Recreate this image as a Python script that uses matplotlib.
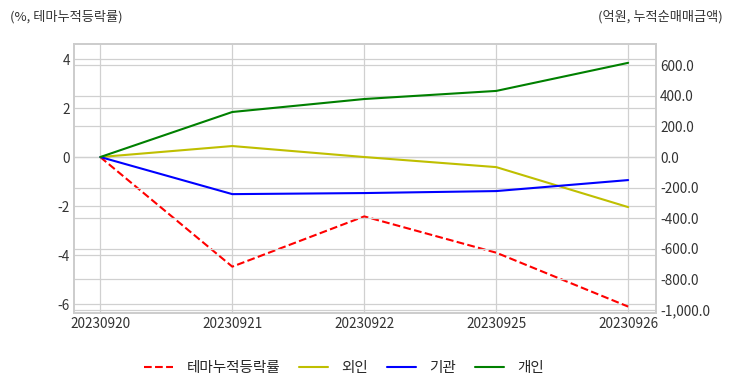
import matplotlib
matplotlib.use("Agg")
import matplotlib.pyplot as plt
import seaborn as sns
from matplotlib.ticker import FuncFormatter

sns.set_style("whitegrid")
plt.rcParams['font.family'] = ['Noto Sans CJK KR', 'DejaVu Sans']
plt.rcParams['axes.unicode_minus'] = False

# dates on the x axis
dates = ['20230920', '20230921', '20230922', '20230925', '20230926']
# theme cumulative return (%), left axis
theme_pct = [0.0, -4.47, -2.42, -3.9, -6.1]
# cumulative net buying (100M won), right axis
foreign = [0.0, 72.0, 0.0, -66.0, -328.0]
institution = [0.0, -243.0, -236.0, -223.0, -151.0]
individual = [0.0, 295.0, 380.0, 433.0, 617.0]

fig = plt.figure(figsize=(7.32, 3.92), dpi=100)
ax = fig.add_axes([0.101, 0.201, 0.795, 0.687])
ax2 = ax.twinx()

x = list(range(len(dates)))
l1, = ax.plot(x, theme_pct, color='red', linestyle='--', linewidth=1.5, label='테마누적등락률')
l2, = ax2.plot(x, foreign, color='y', linewidth=1.5, label='외인')
l3, = ax2.plot(x, institution, color='blue', linewidth=1.5, label='기관')
l4, = ax2.plot(x, individual, color='green', linewidth=1.5, label='개인')

ax.set_xlim(-0.2, 4.21)
ax.set_ylim(-6.37, 4.62)
ax2.set_ylim(-1023, 741)
ax.set_yticks([-6, -4, -2, 0, 2, 4])
ax2.set_yticks([-1000, -800, -600, -400, -200, 0, 200, 400, 600])
ax2.yaxis.set_major_formatter(FuncFormatter(lambda v, p: f"{v:,.1f}"))
ax.set_xticks(x)
ax.set_xticklabels(dates)

for a in (ax, ax2):
    a.tick_params(labelsize=9.8, colors='#333333', length=0, pad=3)
    for s in a.spines.values():
        s.set_color('#cccccc')
        s.set_linewidth(1.2)
    a.grid(True, color='#d0d0d0', linewidth=0.9)
ax2.grid(True, axis='y', color='#d0d0d0', linewidth=0.9)

fig.text(0.013, 0.958, '(%, 테마누적등락률)', fontsize=9.5, color='#333333', ha='left', va='center')
fig.text(0.987, 0.958, '(억원, 누적순매매금액)', fontsize=9.5, color='#333333', ha='right', va='center')

fig.legend(handles=[l1, l2, l3, l4], loc='center', bbox_to_anchor=(0.47, 0.06),
           ncol=4, frameon=False, fontsize=10.5, handlelength=2.0,
           handletextpad=0.9, columnspacing=1.3)

fig.savefig('out.png', dpi=100)
